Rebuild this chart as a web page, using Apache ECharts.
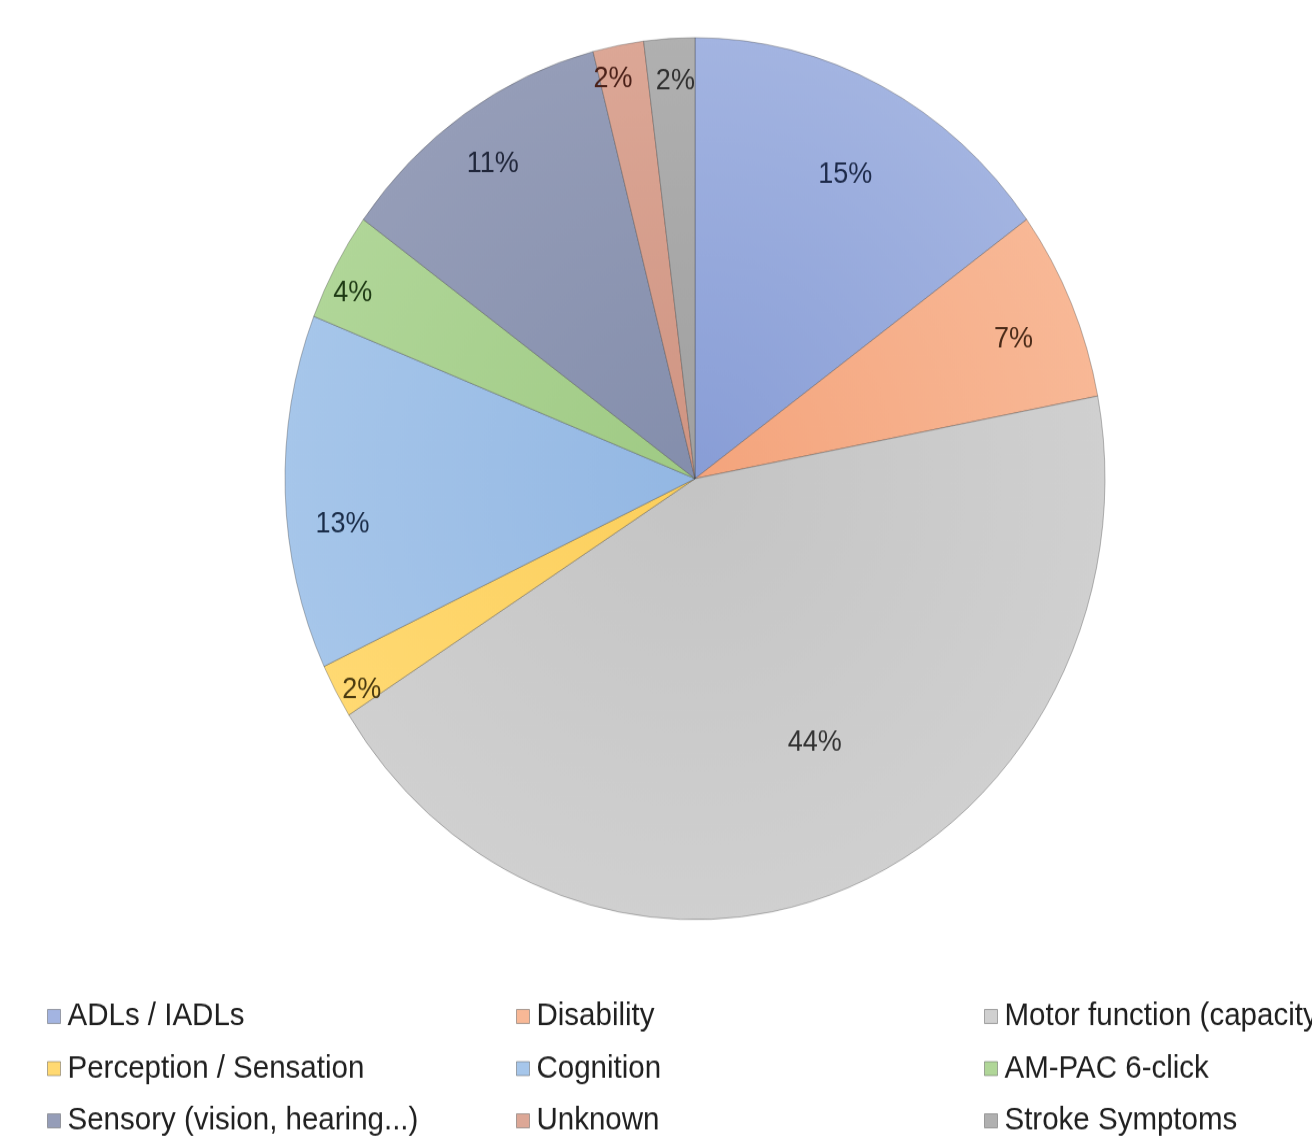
<!DOCTYPE html>
<html lang="en">
<head>
    <meta charset="UTF-8">
    <title>Outcome Categories</title>
    <script src="https://cdn.jsdelivr.net/npm/echarts@6/dist/echarts.min.js"></script>
    <style>
        html, body { margin: 0; padding: 0; background: #fff; }
        #wrap { width: 1312px; height: 1143px; overflow: hidden; position: relative; }
        /* the source picture is stretched a little vertically, so the chart is too */
        #chart { position: absolute; left: 0; top: 0; width: 1312px; height: 1063px; transform: scaleY(1.0756); transform-origin: 0 0; }
    </style>
</head>
<body>
    <div id="wrap"><div id="chart"></div></div>
    <script>
        // data
        const categories = [
            'ADLs / IADLs', 'Disability', 'Motor function (capacity)',
            'Perception / Sensation', 'Cognition', 'AM-PAC 6-click',
            'Sensory (vision, hearing...)', 'Unknown', 'Stroke Symptoms'
        ];
        const shares = [15, 7, 44, 2, 13, 4, 11, 2, 2];

        // styles
        const innerColors = ['#889dd6', '#f4a47c', '#c4c4c4', '#fccf5c', '#93b7e3', '#9fca84', '#848eac', '#cf9482', '#a0a0a0'];
        const outerColors = ['#a3b4e1', '#f8b896', '#d0d0d0', '#ffd972', '#a6c6ea', '#b0d698', '#959db8', '#dca796', '#b0b0b0'];
        const labelColors = ['#1d2a4a', '#4a2a18', '#333333', '#4a3a10', '#1a2c48', '#1e3a14', '#20263a', '#4a2018', '#303030'];
        // how far out (share of radius) each percentage sits, plus a small nudge, as in the source
        const labelRadius = [0.80, 0.85, 0.68, 0.94, 0.86, 0.94, 0.87, 0.93, 0.91];
        const labelNudge = [[0, 12], [-4, 10], [16, -16], [7, 9], [3, 31], [-2, 15], [0, 5], [-10, 6], [4, 6]];

        const cx = 695, cy = 445, R = 410;

        const chart = echarts.init(document.getElementById('chart'));

        const sliceData = categories.map((name, i) => ({
            name: name,
            value: shares[i],
            itemStyle: {
                color: {
                    type: 'radial', x: cx, y: cy, r: R, global: true,
                    colorStops: [
                        { offset: 0, color: innerColors[i] },
                        { offset: 1, color: outerColors[i] }
                    ]
                }
            }
        }));

        const series = [{
            type: 'pie',
            name: 'main',
            center: [cx, cy],
            radius: [0, R],
            startAngle: 90,
            clockwise: true,
            silent: true,
            label: { show: false },
            labelLine: { show: false },
            itemStyle: { borderColor: 'rgba(60,60,60,0.35)', borderWidth: 1 },
            data: sliceData
        }];

        // one transparent ring per label so each can sit at its own distance
        categories.forEach((name, k) => {
            const inner = Math.max(0, (2 * labelRadius[k] - 1) * R);
            series.push({
                type: 'pie',
                center: [cx, cy],
                radius: [inner, R],
                startAngle: 90,
                clockwise: true,
                silent: true,
                labelLine: { show: false },
                itemStyle: { color: 'rgba(0,0,0,0)', borderWidth: 0 },
                label: { show: false },
                data: categories.map((n, i) => ({
                    name: n,
                    value: shares[i],
                    label: {
                        show: i === k,
                        position: 'inside',
                        offset: labelNudge[i],
                        formatter: shares[i] + '%',
                        color: labelColors[i],
                        fontFamily: 'Liberation Sans, Arial, sans-serif',
                        fontSize: 27
                    }
                }))
            });
        });

        function column(names, left) {
            return {
                orient: 'vertical',
                left: left,
                top: 930,
                height: 132,
                padding: 0,
                icon: 'rect',
                itemWidth: 13,
                itemHeight: 13,
                itemGap: 18.5,
                selectedMode: false,
                data: names,
                itemStyle: { borderColor: 'rgba(80,80,80,0.45)', borderWidth: 1 },
                textStyle: {
                    fontFamily: 'Liberation Sans, Arial, sans-serif',
                    fontSize: 29.5,
                    lineHeight: 28,
                    color: '#202020',
                    padding: [0, 0, 0, 2]
                }
            };
        }

        chart.setOption({
            backgroundColor: '#ffffff',
            animation: false,
            legend: [
                column([categories[0], categories[3], categories[6]], 47),
                column([categories[1], categories[4], categories[7]], 516),
                column([categories[2], categories[5], categories[8]], 984)
            ],
            series: series
        });
    </script>
</body>
</html>
